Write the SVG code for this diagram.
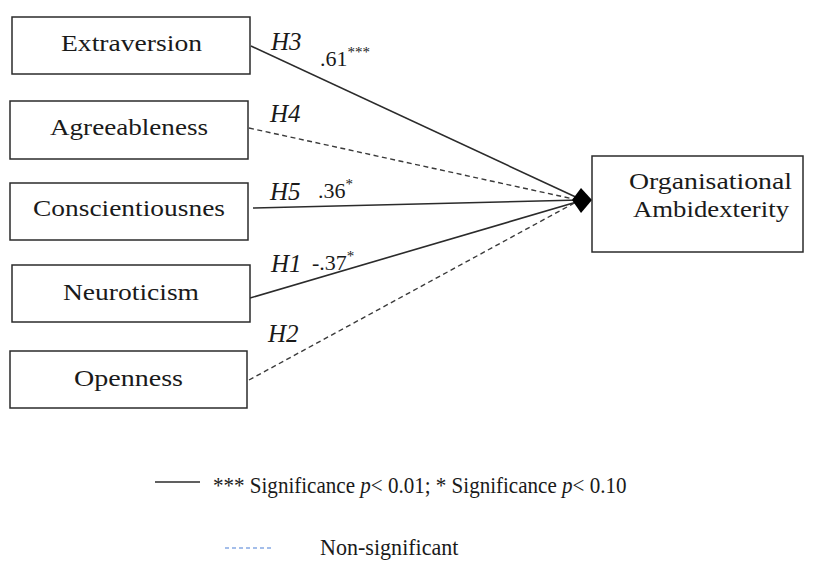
<svg xmlns="http://www.w3.org/2000/svg" width="815" height="562" viewBox="0 0 815 562">
<style>
.box{fill:#fff;stroke:#2b2b2b;stroke-width:1.5}
.lbl{font-family:"Liberation Serif","Times New Roman",serif;font-size:24px;fill:#1a1a1a}
.h{font-family:"Liberation Serif","Times New Roman",serif;font-size:25px;font-style:italic;fill:#1a1a1a}
.v{font-family:"Liberation Serif","Times New Roman",serif;font-size:22px;fill:#1a1a1a}
.sup{font-size:15px}
.sig{fill:none;stroke:#2b2b2b;stroke-width:1.6}
.ns{fill:none;stroke:#3a3a3a;stroke-width:1.4;stroke-dasharray:5 3.5}
</style>
<rect width="815" height="562" fill="#fff"/>
<g id="connectors">
<line class="sig" x1="251" y1="46" x2="580" y2="199"/>
<line class="ns" x1="249" y1="128" x2="578" y2="200"/>
<line class="sig" x1="253" y1="208" x2="580" y2="200"/>
<line class="sig" x1="250" y1="298" x2="580" y2="201"/>
<line class="ns" x1="249" y1="380" x2="578" y2="201"/>
<polygon points="572,200 581,188 592,200 581,213" fill="#000"/>
</g>
<g id="extraversion"><rect class="box" x="12" y="17" width="238" height="57"/><text class="lbl" x="61" y="51" textLength="141" lengthAdjust="spacingAndGlyphs">Extraversion</text></g>
<g id="agreeableness"><rect class="box" x="10" y="101" width="238" height="58"/><text class="lbl" x="50" y="135" textLength="158" lengthAdjust="spacingAndGlyphs">Agreeableness</text></g>
<g id="conscientiousness"><rect class="box" x="10" y="183" width="238" height="57"/><text class="lbl" x="33" y="216" textLength="192" lengthAdjust="spacingAndGlyphs">Conscientiousnes</text></g>
<g id="neuroticism"><rect class="box" x="12" y="265" width="238" height="57"/><text class="lbl" x="63" y="300" textLength="136" lengthAdjust="spacingAndGlyphs">Neuroticism</text></g>
<g id="openness"><rect class="box" x="10" y="351" width="237" height="57"/><text class="lbl" x="74" y="386" textLength="109" lengthAdjust="spacingAndGlyphs">Openness</text></g>
<g id="ambidexterity"><rect class="box" x="592" y="156" width="211" height="96"/><text class="lbl" x="629" y="189" textLength="163" lengthAdjust="spacingAndGlyphs">Organisational</text><text class="lbl" x="633" y="217" textLength="156" lengthAdjust="spacingAndGlyphs">Ambidexterity</text></g>
<g id="labels">
<text class="h" x="271" y="50">H3</text>
<text class="v" x="320" y="66">.61<tspan class="sup" dy="-9">***</tspan></text>
<text class="h" x="270" y="122">H4</text>
<text class="h" x="270" y="200">H5</text>
<text class="v" x="318" y="198">.36<tspan class="sup" dy="-9">*</tspan></text>
<text class="h" x="271" y="272">H1</text>
<text class="v" x="312" y="270">-.37<tspan class="sup" dy="-9">*</tspan></text>
<text class="h" x="268" y="342">H2</text>
</g>
<g id="legend">
<line x1="155" y1="482" x2="200" y2="482" stroke="#2b2b2b" stroke-width="1.5"/>
<text class="lbl" transform="translate(213,493) scale(0.877,1)" x="0" y="0">*** Significance <tspan font-style="italic">p</tspan>&lt; 0.01; * Significance <tspan font-style="italic">p</tspan>&lt; 0.10</text>
<line x1="225" y1="548" x2="272" y2="548" stroke="#4a7fd6" stroke-width="1.2" stroke-dasharray="4 3"/>
<text class="lbl" transform="translate(320,555) scale(0.92,1)" x="0" y="0">Non-significant</text>
</g>
</svg>
